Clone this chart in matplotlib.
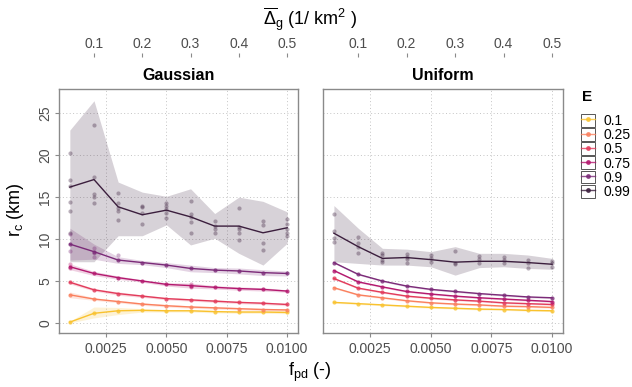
# plotting critical radius r_c against f_pd for two spatial distributions
import numpy as np
import matplotlib.pyplot as plt
from matplotlib.patches import Patch
from matplotlib.lines import Line2D

plt.rcParams['font.family'] = ['Liberation Sans', 'DejaVu Sans']
plt.rcParams['mathtext.fontset'] = 'custom'
plt.rcParams['mathtext.rm'] = 'Liberation Sans'
plt.rcParams['mathtext.it'] = 'Liberation Sans:italic'

# x values (f_pd)
fpd = [0.001, 0.002, 0.003, 0.004, 0.005, 0.006, 0.007, 0.008, 0.009, 0.010]
E_labels = ['0.1', '0.25', '0.5', '0.75', '0.9', '0.99']
colors = ['#F9C22E', '#FA805E', '#E23B5B', '#B3186E', '#7B2A78', '#3B1E3D']

# Gaussian panel: mean lines
g_01 = [0.1, 1.15, 1.45, 1.5, 1.45, 1.45, 1.35, 1.3, 1.3, 1.25]
g_025 = [3.35, 2.85, 2.55, 2.25, 2.05, 1.9, 1.8, 1.7, 1.6, 1.55]
g_05 = [4.85, 3.95, 3.5, 3.2, 2.9, 2.75, 2.6, 2.45, 2.35, 2.2]
g_075 = [6.7, 5.9, 5.4, 5.0, 4.6, 4.45, 4.25, 4.1, 4.0, 3.8]
g_09 = [9.4, 8.5, 7.5, 7.2, 6.9, 6.5, 6.3, 6.2, 6.0, 5.9]
g_099 = [16.2, 17.1, 13.85, 12.9, 13.45, 12.65, 11.55, 11.55, 10.75, 11.35]
# Gaussian panel: ribbon bounds
g_01_lo = [0.0, 0.6, 1.0, 1.3, 1.3, 1.3, 1.2, 1.15, 1.15, 1.1]
g_01_hi = [0.2, 1.9, 1.85, 1.7, 1.6, 1.6, 1.5, 1.45, 1.45, 1.4]
g_025_lo = [3.0, 2.7, 2.4, 2.1, 1.9, 1.75, 1.65, 1.55, 1.45, 1.4]
g_025_hi = [3.7, 3.0, 2.7, 2.4, 2.2, 2.05, 1.95, 1.85, 1.75, 1.7]
g_05_lo = [4.65, 3.8, 3.3, 3.05, 2.75, 2.6, 2.45, 2.3, 2.2, 2.05]
g_05_hi = [5.05, 4.1, 3.7, 3.35, 3.05, 2.9, 2.75, 2.6, 2.5, 2.35]
g_075_lo = [6.35, 5.65, 5.2, 4.85, 4.4, 4.15, 4.05, 3.9, 3.8, 3.65]
g_075_hi = [7.05, 6.15, 5.6, 5.15, 4.8, 4.75, 4.45, 4.3, 4.2, 3.95]
g_09_lo = [7.5, 7.6, 7.1, 6.95, 6.6, 6.1, 6.0, 5.85, 5.65, 5.6]
g_09_hi = [11.3, 9.4, 7.9, 7.45, 7.2, 6.9, 6.6, 6.55, 6.35, 6.2]
g_099_lo = [7.3, 7.3, 10.4, 10.4, 11.7, 9.3, 10.1, 8.3, 6.9, 9.5]
g_099_hi = [23.0, 26.5, 16.8, 15.6, 15.1, 16.0, 13.05, 15.0, 14.5, 13.25]

# Uniform panel: mean lines
u_01 = [2.45, 2.3, 2.15, 2.0, 1.85, 1.75, 1.65, 1.6, 1.5, 1.45]
u_025 = [4.2, 3.35, 3.0, 2.65, 2.4, 2.25, 2.15, 2.0, 1.95, 1.85]
u_05 = [5.3, 4.15, 3.65, 3.2, 2.95, 2.75, 2.6, 2.4, 2.3, 2.2]
u_075 = [6.25, 4.9, 4.3, 3.75, 3.45, 3.2, 3.0, 2.85, 2.7, 2.55]
u_09 = [7.2, 5.8, 5.0, 4.4, 4.0, 3.75, 3.5, 3.3, 3.1, 3.0]
u_099 = [10.7, 9.1, 7.7, 7.8, 7.55, 7.25, 7.35, 7.35, 7.2, 7.0]
u_099_lo = [7.3, 7.1, 6.9, 6.9, 6.7, 5.7, 6.6, 6.7, 6.5, 6.4]
u_099_hi = [14.0, 11.3, 8.9, 8.8, 8.5, 9.1, 8.3, 8.3, 8.1, 7.7]

# replicate points for E = 0.99
g_pts_x = [0.001]*6 + [0.002]*5 + [0.003]*5 + [0.004]*4 + [0.005]*5 + [0.006]*5 + [0.007]*4 + [0.008]*5 + [0.009]*4 + [0.010]*5
g_pts_y = [20.3, 17.1, 16.3, 14.45, 13.3, 10.7,
           23.6, 17.4, 15.4, 15.0, 14.25,
           15.5, 14.3, 13.7, 13.4, 12.3,
           13.9, 13.8, 13.1, 11.8,
           14.3, 14.0, 13.6, 13.1, 12.5,
           14.55, 13.05, 12.65, 12.05, 10.75,
           12.2, 11.55, 11.15, 10.75,
           13.65, 11.45, 11.15, 10.75, 9.95,
           12.15, 11.65, 9.55, 8.7,
           12.35, 11.85, 11.25, 10.75, 10.35]
u_pts_x = [0.001]*4 + [0.002]*4 + [0.003]*4 + [0.004]*4 + [0.005]*3 + [0.006]*3 + [0.007]*3 + [0.008]*3 + [0.009]*3 + [0.010]*3
u_pts_y = [13.0, 11.0, 10.15, 9.7,
           10.3, 9.55, 9.1, 8.4,
           8.4, 8.1, 7.5, 7.3,
           8.2, 7.9, 7.6, 7.1,
           8.1, 7.7, 7.3,
           8.6, 7.2, 7.0,
           8.0, 7.6, 7.2,
           7.9, 7.5, 7.2,
           7.5, 7.2, 6.6,
           7.4, 7.2, 6.7]
# a few spread replicates for E = 0.9 / 0.75 (Gaussian)
g09_pts_x = [0.001, 0.001, 0.002, 0.002, 0.002, 0.003]
g09_pts_y = [10.6, 8.6, 8.9, 8.3, 7.9, 8.1]
g075_pts_x = [0.001, 0.001, 0.006, 0.006]
g075_pts_y = [7.0, 6.6, 4.7, 4.3]

gauss_means = [g_01, g_025, g_05, g_075, g_09, g_099]
gauss_lo = [g_01_lo, g_025_lo, g_05_lo, g_075_lo, g_09_lo, g_099_lo]
gauss_hi = [g_01_hi, g_025_hi, g_05_hi, g_075_hi, g_09_hi, g_099_hi]
unif_means = [u_01, u_025, u_05, u_075, u_09, u_099]

fig = plt.figure(figsize=(6.32, 3.87), dpi=100)
W, H = 632.0, 387.0
axL = fig.add_axes([59/W, 1-333/H, 239/W, 244/H])
axR = fig.add_axes([323/W, 1-333/H, 240/W, 244/H])

grey = '#4D4D4D'
for ax in (axL, axR):
    ax.set_xlim(0.00055, 0.01045)
    ax.set_ylim(-1.2, 27.9)
    ax.set_xticks([0.0025, 0.005, 0.0075, 0.01])
    ax.set_xticklabels(['0.0025', '0.0050', '0.0075', '0.0100'])
    ax.set_yticks([0, 5, 10, 15, 20, 25])
    ax.grid(True, linestyle=(0, (1, 2.5)), color='#C4C4C4', linewidth=0.7)
    ax.set_axisbelow(True)
    for s in ax.spines.values():
        s.set_color('#8A8A8A')
        s.set_linewidth(1.0)
    ax.tick_params(axis='both', colors='#8A8A8A', labelcolor=grey, labelsize=10, length=3, width=0.8)
    # secondary top axis (Delta_g = 50 * f_pd)
    sec = ax.secondary_xaxis('top', functions=(lambda x: x*50, lambda x: x/50))
    sec.set_xticks([0.1, 0.2, 0.3, 0.4, 0.5])
    sec.spines['top'].set_position(('outward', 23))
    sec.spines['top'].set_visible(False)
    sec.tick_params(axis='x', colors='#8A8A8A', labelcolor=grey, labelsize=10, length=3, width=0.8, pad=1)

axL.tick_params(axis='y', labelrotation=90, pad=2)
for lab in axL.get_yticklabels():
    lab.set_va('center')
axR.tick_params(axis='y', length=0, labelleft=False)

# facet strip titles between top axis and panel
axL.text(0.5, 1 + 14/244, 'Gaussian', transform=axL.transAxes, ha='center', va='center',
         fontweight='bold', fontsize=11.5)
axR.text(0.5, 1 + 14/244, 'Uniform', transform=axR.transAxes, ha='center', va='center',
         fontweight='bold', fontsize=11.5)

# Gaussian ribbons, lines and points
for i in range(6):
    c = colors[i]
    axL.fill_between(fpd, gauss_lo[i], gauss_hi[i], color=c, alpha=0.2, linewidth=0)
for i in range(6):
    c = colors[i]
    axL.plot(fpd, gauss_means[i], color=c, linewidth=1.0)
    if i < 5:
        axL.scatter(fpd, gauss_means[i], color=c, s=9, alpha=0.8, linewidth=0, zorder=3)
axL.scatter(g_pts_x, g_pts_y, color=colors[5], s=9, alpha=0.35, linewidth=0, zorder=3)
axL.scatter(g09_pts_x, g09_pts_y, color=colors[4], s=9, alpha=0.35, linewidth=0, zorder=3)
axL.scatter(g075_pts_x, g075_pts_y, color=colors[3], s=9, alpha=0.35, linewidth=0, zorder=3)

# Uniform ribbons, lines and points
axR.fill_between(fpd, u_099_lo, u_099_hi, color=colors[5], alpha=0.2, linewidth=0)
for i in range(5):
    c = colors[i]
    axR.fill_between(fpd, np.array(unif_means[i]) - 0.1, np.array(unif_means[i]) + 0.1, color=c, alpha=0.2, linewidth=0)
for i in range(6):
    c = colors[i]
    axR.plot(fpd, unif_means[i], color=c, linewidth=1.0)
    if i < 5:
        axR.scatter(fpd, unif_means[i], color=c, s=9, alpha=0.8, linewidth=0, zorder=3)
axR.scatter(u_pts_x, u_pts_y, color=colors[5], s=9, alpha=0.35, linewidth=0, zorder=3)

# axis titles
fig.text(310/W, 1-19/H, r'$\overline{\Delta}_{\rm g}$ (1/ km$^2$ )', ha='center', va='center', fontsize=13)
fig.text(310/W, 1-372/H, r'f$_{\rm pd}$ (-)', ha='center', va='center', fontsize=13)
fig.text(16/W, 1-210/H, r'r$_{\rm c}$ (km)', ha='center', va='center', rotation=90, fontsize=13)

# legend (title drawn separately to get the gap above the keys)
fig.text(582/W, 1-97/H, 'E', ha='left', va='center', fontweight='bold', fontsize=11)
handles = []
for c in colors:
    box = Patch(facecolor=(1, 1, 1, 0), edgecolor='#555555', linewidth=0.7)
    ln = Line2D([], [], color=c, linewidth=1.0, marker='o', markersize=2.5, alpha=0.8)
    handles.append((box, ln))
leg = fig.legend(handles, E_labels, loc='upper left', bbox_to_anchor=(578/W, 1-111/H),
                 frameon=False, fontsize=10, handlelength=1.0, handleheight=1.05,
                 labelspacing=0.0, handletextpad=0.6, borderaxespad=0, borderpad=0.2)

plt.savefig('out.png', dpi=100)
